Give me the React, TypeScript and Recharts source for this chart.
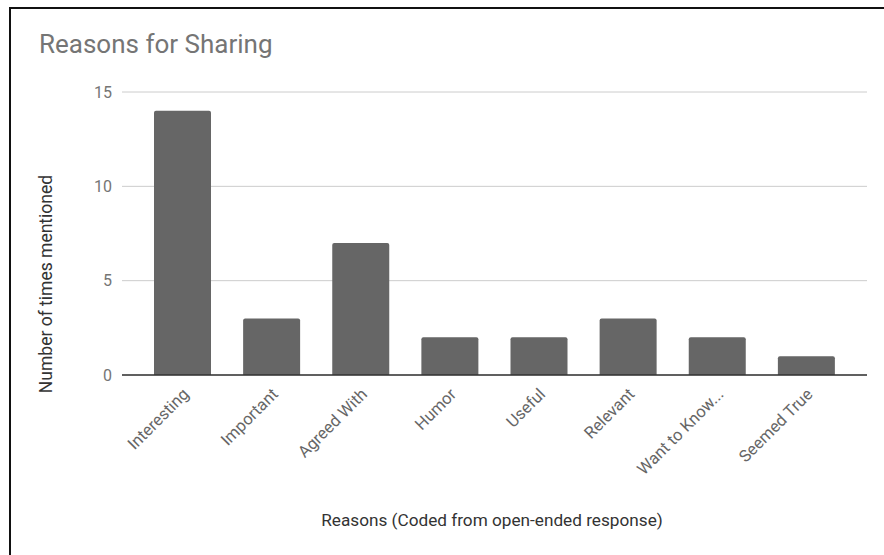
import React from "react";
import {
  BarChart,
  Bar,
  XAxis,
  YAxis,
  CartesianGrid,
} from "recharts";

const reasons = [
  "Interesting",
  "Important",
  "Agreed With",
  "Humor",
  "Useful",
  "Relevant",
  "Want to Know...",
  "Seemed True",
];
const mentions = [14, 3, 7, 2, 2, 3, 2, 1];
const yTicks = [0, 5, 10, 15];

const data = reasons.map((reason, i) => ({ reason, count: mentions[i] }));

const FONT = "Roboto, 'Noto Sans', sans-serif";

const AngledTick = (props: any) => {
  const { x, y, payload } = props;
  return (
    <text
      x={0}
      y={0}
      transform={`translate(${x - 1},${y + 4}) rotate(-45)`}
      textAnchor="end"
      dy="0.71em"
      fill="#666"
      fontSize={16.5}
      fontFamily={FONT}
    >
      {payload.value}
    </text>
  );
};

export default function App() {
  return (
    <div
      style={{
        position: "absolute",
        left: 0,
        top: 0,
        width: 884,
        height: 555,
        background: "#fff",
        overflow: "hidden",
      }}
    >
      <div
        style={{
          position: "absolute",
          left: 9,
          top: 7,
          width: 884,
          height: 600,
          borderTop: "2px solid #111",
          borderLeft: "2px solid #111",
        }}
      />
      <BarChart
        width={884}
        height={555}
        data={data}
        margin={{ top: 92, right: 17, bottom: 80, left: 62 }}
      >
        <CartesianGrid vertical={false} stroke="#ccc" />
        <XAxis
          dataKey="reason"
          height={100}
          padding={{ left: 16, right: 16 }}
          axisLine={{ stroke: "#333", strokeWidth: 1.5 }}
          tickLine={false}
          tickSize={0}
          tickMargin={8}
          interval={0}
          tick={<AngledTick />}
        />
        <YAxis
          width={60}
          domain={[0, 15]}
          ticks={yTicks}
          axisLine={false}
          tickLine={false}
          tickSize={0}
          tickMargin={10}
          tick={{ fill: "#757575", fontSize: 16, fontFamily: FONT }}
        />
        <Bar
          dataKey="count"
          fill="#666666"
          barSize={57}
          radius={[2, 2, 0, 0]}
          isAnimationActive={false}
        />
      </BarChart>
      <svg
        width={884}
        height={555}
        style={{ position: "absolute", left: 0, top: 0, pointerEvents: "none" }}
      >
        <text x={39} y={53} fontSize={26} fill="#757575" fontFamily={FONT}>
          Reasons for Sharing
        </text>
        <text
          x={0}
          y={0}
          transform="translate(52,284) rotate(-90)"
          textAnchor="middle"
          fontSize={17.5}
          fill="#333"
          fontFamily={FONT}
        >
          Number of times mentioned
        </text>
        <text
          x={492}
          y={526}
          textAnchor="middle"
          fontSize={17.2}
          fill="#333"
          fontFamily={FONT}
        >
          Reasons (Coded from open-ended response)
        </text>
      </svg>
    </div>
  );
}
